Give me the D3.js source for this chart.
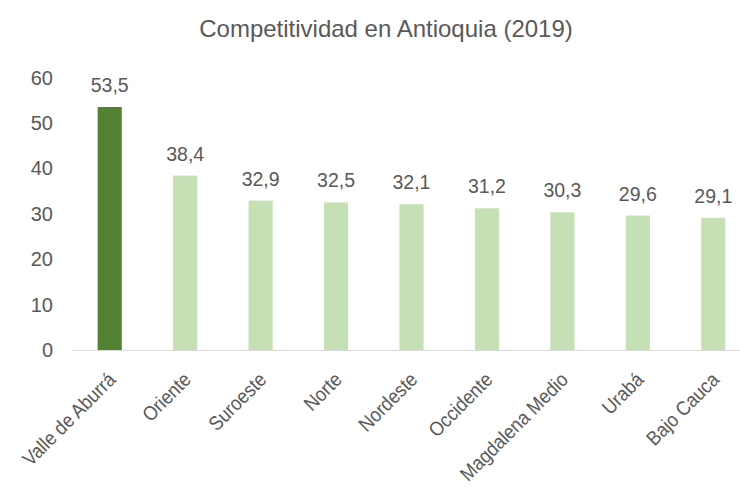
<!DOCTYPE html>
<html lang="es">
<head>
<meta charset="UTF-8">
<title>Competitividad en Antioquia</title>
<script src="https://d3js.org/d3.v7.min.js"></script>
<style>
    body { margin: 0; background: #fff; }
    svg text { font-family: "Liberation Sans", Arial, sans-serif; fill: #595959; }
</style>
</head>
<body>
<script>
// data
var regiones = ["Valle de Aburrá", "Oriente", "Suroeste", "Norte", "Nordeste",
                "Occidente", "Magdalena Medio", "Urabá", "Bajo Cauca"];
var valores = [53.5, 38.4, 32.9, 32.5, 32.1, 31.2, 30.3, 29.6, 29.1];
var yTicks = [0, 10, 20, 30, 40, 50, 60];

var width = 740, height = 487;

var svg = d3.select("body").append("svg")
    .attr("width", width)
    .attr("height", height);

// scales
var x = d3.scaleBand()
    .domain(regiones)
    .range([72, 751])
    .paddingInner(0.68)
    .paddingOuter(0.34);

var y = d3.scaleLinear()
    .domain([0, 60])
    .range([350, 77.5]);

// title
svg.append("text")
    .attr("x", 386)
    .attr("y", 37)
    .attr("text-anchor", "middle")
    .style("font-size", "24px")
    .text("Competitividad en Antioquia (2019)");

// y axis labels (no axis line)
svg.selectAll(".ytick")
    .data(yTicks)
    .enter().append("text")
    .attr("class", "ytick")
    .attr("x", 53)
    .attr("y", function (d) { return y(d); })
    .attr("dy", "0.35em")
    .attr("text-anchor", "end")
    .style("font-size", "20px")
    .text(function (d) { return d; });

// bars
svg.selectAll("rect")
    .data(valores)
    .enter().append("rect")
    .attr("x", function (d, i) { return x(regiones[i]); })
    .attr("y", function (d) { return y(d); })
    .attr("width", x.bandwidth())
    .attr("height", function (d) { return y(0) - y(d); })
    .attr("fill", function (d, i) { return i === 0 ? "#548235" : "#C5E0B4"; });

// baseline
svg.append("line")
    .attr("x1", 72).attr("x2", 740)
    .attr("y1", y(0) + 0.5).attr("y2", y(0) + 0.5)
    .attr("stroke", "#d9d9d9")
    .attr("stroke-width", 1);

// value labels
svg.selectAll(".val")
    .data(valores)
    .enter().append("text")
    .attr("class", "val")
    .attr("x", function (d, i) { return x(regiones[i]) + x.bandwidth() / 2; })
    .attr("y", function (d) { return y(d) - 15; })
    .attr("text-anchor", "middle")
    .style("font-size", "19.5px")
    .text(function (d) { return d.toFixed(1).replace(".", ","); });

// category labels, rotated and a bit condensed
svg.selectAll(".cat")
    .data(regiones)
    .enter().append("text")
    .attr("class", "cat")
    .attr("transform", function (d) {
        return "translate(" + (x(d) + x.bandwidth() / 2 + 7) + ",381) rotate(-45) scale(0.9,1)";
    })
    .attr("text-anchor", "end")
    .style("font-size", "20px")
    .text(function (d) { return d; });
</script>
</body>
</html>
